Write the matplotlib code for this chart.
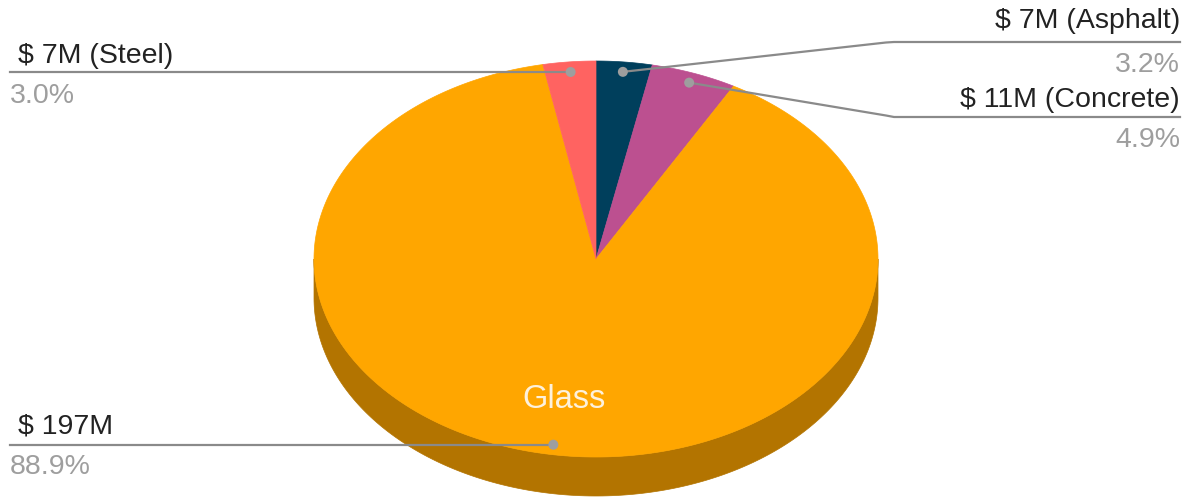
import numpy as np
import matplotlib
matplotlib.use("Agg")
import matplotlib.pyplot as plt
from matplotlib.patches import Polygon, Circle

# ---- data ----
categories = ["Asphalt", "Concrete", "Glass", "Steel"]
values = [7.1, 10.9, 197.3, 6.7]          # $ millions
value_labels = ["$ 7M", "$ 11M", "$ 197M", "$ 7M"]
colors = ["#003f5c", "#bc5090", "#ffa600", "#ff6361"]

W, H = 1191, 497
fig = plt.figure(figsize=(W / 100, H / 100), dpi=100)
ax = fig.add_axes([0, 0, 1, 1])
ax.set_xlim(0, W)
ax.set_ylim(H, 0)
ax.axis("off")

cx, cy, Rx, Ry, depth = 596, 259, 282, 198, 39


def pt(theta_deg, f=1.0, dy=0.0):
    t = np.radians(theta_deg)
    return cx + f * Rx * np.sin(t), cy - f * Ry * np.cos(t) + dy


def darker(c, k=0.7):
    r, g, b = matplotlib.colors.to_rgb(c)
    return (r * k, g * k, b * k)


total = sum(values)
fracs = [v / total for v in values]
starts = np.concatenate([[0], np.cumsum(fracs)[:-1]]) * 360
ends = np.cumsum(fracs) * 360

# sides (front half only: 90..270)
for a0, a1, c in zip(starts, ends, colors):
    b0, b1 = max(a0, 90), min(a1, 270)
    if b1 <= b0:
        continue
    th = np.linspace(b0, b1, 200)
    top = [pt(t) for t in th]
    bot = [pt(t, dy=depth) for t in th[::-1]]
    ax.add_patch(Polygon(top + bot, closed=True, fc=darker(c), ec=darker(c), lw=0.5, zorder=1))

# top faces
for a0, a1, c in zip(starts, ends, colors):
    th = np.linspace(a0, a1, max(int((a1 - a0) * 2), 10))
    poly = [(cx, cy)] + [pt(t) for t in th]
    ax.add_patch(Polygon(poly, closed=True, fc=c, ec=c, lw=0.5, zorder=2))

# labels
line_c = "#8a8a8a"
txt_c = "#222222"
pct_c = "#9e9e9e"
fs = 20.5
fam = ["Liberation Sans", "DejaVu Sans"]
mids = (starts + ends) / 2

for i, cat in enumerate(categories):
    dx, dy = pt(mids[i], 0.95)
    pct = f"{fracs[i] * 100:.1f}%"
    if cat == "Asphalt":
        ax.plot([dx, 886, 894, 1180], [dy, 42.5, 42, 42], color=line_c, lw=1.6, zorder=3)
        ax.text(1180, 28, f"{value_labels[i]} ({cat})", ha="right", va="baseline", fontsize=fs, color=txt_c, family=fam)
        ax.text(1180, 72, pct, ha="right", va="baseline", fontsize=fs, color=pct_c, family=fam)
    elif cat == "Concrete":
        ax.plot([dx, 886, 894, 1180], [dy, 115.5, 117, 117], color=line_c, lw=1.6, zorder=3)
        ax.text(1180, 107, f"{value_labels[i]} ({cat})", ha="right", va="baseline", fontsize=fs, color=txt_c, family=fam)
        ax.text(1180, 147, pct, ha="right", va="baseline", fontsize=fs, color=pct_c, family=fam)
    elif cat == "Steel":
        ax.plot([dx, 10], [72, 72], color=line_c, lw=1.6, zorder=3)
        dy = 72
        ax.text(18, 63, f"{value_labels[i]} ({cat})", ha="left", va="baseline", fontsize=fs, color=txt_c, family=fam)
        ax.text(10, 103, pct, ha="left", va="baseline", fontsize=fs, color=pct_c, family=fam)
    else:  # Glass
        ax.plot([dx, 10], [dy, dy], color=line_c, lw=1.6, zorder=3)
        ax.text(18, 433, value_labels[i], ha="left", va="baseline", fontsize=fs, color=txt_c, family=fam)
        ax.text(10, 474, pct, ha="left", va="baseline", fontsize=fs, color=pct_c, family=fam)
        ax.text(564, 408, cat, ha="center", va="baseline", fontsize=23.5, color="#fdf1dc", family=fam, zorder=4)
    ax.add_patch(Circle((dx, dy), 5, fc="#9e9e9e", ec="none", zorder=4))

fig.savefig("out.png", dpi=100)
